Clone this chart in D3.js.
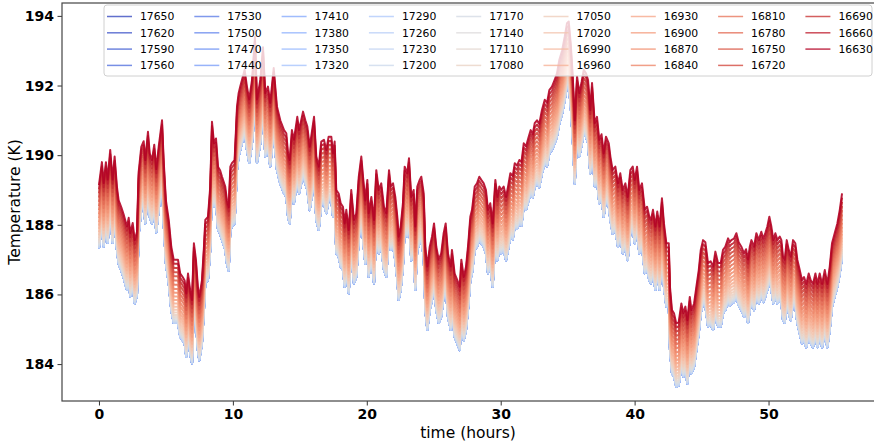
<!DOCTYPE html>
<html>
<head>
<meta charset="utf-8">
<script src="https://cdnjs.cloudflare.com/ajax/libs/d3/7.8.5/d3.min.js"></script>
<style>
body {
    margin: 0;
    background: #fff;
}
svg text {
    font-family: "DejaVu Sans", sans-serif;
    fill: #000;
}
</style>
</head>
<body>
<svg id="chart"></svg>
<script>

const WIDTH = 874, HEIGHT = 444;

// series names, drawn in this order (first = coolest colour)
const seriesIds = [17650, 17620, 17590, 17560, 17530, 17500, 17470, 17440, 17410,
    17380, 17350, 17320, 17290, 17260, 17230, 17200, 17170, 17140, 17110, 17080,
    17050, 17020, 16990, 16960, 16930, 16900, 16870, 16840, 16810, 16780, 16750,
    16720, 16690, 16660, 16630];

// how far each series sits below the warmest one (K)
const seriesDrop = [1.82, 1.82, 1.82, 1.82, 1.82, 1.82, 1.82, 1.82, 1.82,
    1.82, 1.82, 1.82, 1.82, 1.82, 1.80, 1.77, 1.74, 1.70, 1.65, 1.59,
    1.52, 1.44, 1.35, 1.26, 1.16, 1.06, 0.95, 0.84, 0.72, 0.60, 0.48,
    0.36, 0.24, 0.12, 0.00];

// time axis (hours) and the top (16630) trace in K
const hours = [0.00, 0.22, 0.35, 0.52, 0.65, 0.84, 1.02, 1.17, 1.34, 1.47,
    1.67, 1.84, 2.09, 2.22, 2.34, 2.52, 2.67, 2.84, 2.96, 3.16,
    3.34, 3.46, 3.66, 3.79, 3.96, 4.13, 4.28, 4.46, 4.71, 4.83,
    5.00, 5.21, 5.40, 5.58, 5.90, 6.07, 6.25, 6.40, 6.52, 6.65,
    6.82, 6.95, 7.09, 7.24, 7.39, 7.49, 7.69, 7.84, 7.94, 8.14,
    8.31, 8.44, 8.59, 8.74, 8.89, 9.04, 9.19, 9.43, 9.56, 9.69,
    9.81, 9.93, 10.13, 10.31, 10.43, 10.55, 10.68, 10.88, 11.05, 11.22,
    11.43, 11.65, 11.80, 12.05, 12.25, 12.42, 12.62, 12.79, 13.05, 13.29,
    13.54, 13.82, 13.99, 14.12, 14.24, 14.41, 14.56, 14.81, 14.94, 15.24,
    15.41, 15.56, 15.74, 16.06, 16.23, 16.41, 16.60, 16.80, 16.98, 17.15,
    17.35, 17.48, 17.60, 17.72, 17.90, 18.05, 18.22, 18.35, 18.47, 18.65,
    18.84, 19.04, 19.22, 19.40, 19.59, 19.74, 19.89, 20.04, 20.14, 20.34,
    20.54, 20.71, 20.89, 21.08, 21.28, 21.46, 21.66, 21.79, 21.96, 22.13,
    22.28, 22.38, 22.53, 22.70, 22.83, 23.02, 23.15, 23.32, 23.50, 23.62,
    23.77, 23.95, 24.07, 24.25, 24.37, 24.52, 24.70, 24.87, 25.02, 25.19,
    25.37, 25.56, 25.74, 25.89, 26.06, 26.27, 26.36, 26.56, 26.76, 26.94,
    27.06, 27.24, 27.41, 27.58, 27.73, 27.86, 28.06, 28.23, 28.40, 28.55,
    28.73, 28.90, 29.05, 29.22, 29.40, 29.60, 29.75, 29.90, 30.04, 30.22,
    30.40, 30.55, 30.72, 30.90, 31.05, 31.22, 31.39, 31.55, 31.72, 31.89,
    32.09, 32.24, 32.39, 32.54, 32.71, 32.88, 33.08, 33.29, 33.46, 33.63,
    33.83, 34.03, 34.20, 34.38, 34.58, 34.78, 34.95, 35.08, 35.23, 35.38,
    35.53, 35.70, 35.87, 36.04, 36.20, 36.37, 36.52, 36.69, 36.82, 37.02,
    37.19, 37.36, 37.53, 37.69, 37.86, 38.07, 38.19, 38.36, 38.56, 38.76,
    38.93, 39.11, 39.31, 39.48, 39.68, 39.86, 40.01, 40.18, 40.35, 40.55,
    40.76, 40.93, 41.10, 41.22, 41.37, 41.55, 41.69, 41.87, 42.04, 42.19,
    42.37, 42.55, 42.64, 42.79, 42.94, 43.11, 43.29, 43.49, 43.64, 43.79,
    43.94, 44.12, 44.24, 44.44, 44.61, 44.79, 44.94, 45.11, 45.28, 45.48,
    45.68, 45.86, 46.03, 46.23, 46.43, 46.60, 46.77, 46.98, 47.10, 47.22,
    47.42, 47.60, 47.77, 47.97, 48.17, 48.32, 48.47, 48.60, 48.72, 48.92,
    49.09, 49.27, 49.46, 49.61, 49.76, 49.91, 50.06, 50.21, 50.36, 50.51,
    50.66, 50.84, 50.96, 51.08, 51.21, 51.36, 51.51, 51.66, 51.83, 52.00,
    52.15, 52.33, 52.50, 52.65, 52.82, 53.00, 53.15, 53.32, 53.50, 53.65,
    53.82, 54.00, 54.20, 54.39, 54.57, 54.74, 54.94, 55.14, 55.32, 55.49];

const topTemp = [189.14, 189.80, 189.20, 189.80, 189.30, 190.15, 189.30, 189.96, 189.10, 188.70,
    188.50, 188.30, 187.95, 188.20, 187.76, 188.05, 187.56, 187.80, 189.50, 190.24,
    190.40, 189.86, 190.67, 190.05, 189.86, 190.30, 189.60, 190.24, 191.00, 189.86,
    188.70, 188.14, 187.37, 187.00, 187.00, 186.60, 186.50, 186.40, 186.03, 186.60,
    186.10, 185.84, 187.47, 187.00, 186.20, 185.93, 186.40, 187.37, 188.14, 188.23,
    189.10, 190.96, 190.34, 190.48, 189.67, 189.57, 189.38, 189.10, 188.70, 188.50,
    189.67, 189.77, 189.86, 191.40, 191.78, 191.97, 192.16, 192.45, 191.97, 191.60,
    192.16, 193.40, 191.60, 192.16, 193.10, 191.78, 191.97, 191.50, 192.50, 191.40,
    191.00, 190.72, 190.63, 190.05, 189.86, 190.72, 190.44, 191.10, 190.72, 191.25,
    191.00, 190.82, 190.24, 191.10, 189.96, 189.67, 190.39, 190.44, 190.15, 190.53,
    190.53, 190.05, 190.39, 189.00, 188.90, 188.62, 188.52, 188.04, 188.43, 187.85,
    189.00, 188.14, 188.33, 189.38, 189.96, 189.29, 188.70, 189.29, 188.33, 188.80,
    188.14, 189.57, 189.00, 189.19, 188.52, 188.33, 189.57, 189.10, 189.19, 188.80,
    188.23, 187.66, 187.95, 188.62, 189.67, 189.48, 189.91, 188.80, 189.00, 187.95,
    189.10, 189.29, 189.38, 188.90, 187.37, 186.80, 187.37, 187.66, 188.04, 187.37,
    187.00, 187.18, 187.76, 188.04, 187.18, 186.80, 187.28, 186.60, 186.41, 186.22,
    187.00, 186.50, 186.80, 187.47, 188.23, 188.43, 189.10, 189.19, 189.38, 189.29,
    189.19, 189.00, 188.43, 188.62, 188.04, 189.29, 188.80, 189.10, 189.00, 189.10,
    188.80, 189.10, 189.48, 189.40, 189.77, 189.70, 189.86, 189.80, 190.34, 190.25,
    190.53, 190.72, 190.60, 190.92, 191.00, 190.90, 191.30, 191.59, 191.50, 191.87,
    191.97, 192.16, 192.35, 192.74, 193.00, 193.40, 193.79, 193.84, 193.20, 192.26,
    191.00, 192.26, 191.78, 192.10, 192.45, 192.35, 192.16, 191.30, 192.07, 190.92,
    191.10, 190.44, 190.60, 190.05, 190.53, 190.34, 189.96, 189.57, 189.67, 189.19,
    189.48, 189.00, 189.19, 188.80, 189.57, 189.67, 189.29, 189.67, 189.00, 189.19,
    188.43, 188.52, 188.23, 188.14, 188.43, 187.95, 188.38, 187.95, 188.76, 188.04,
    187.47, 187.47, 186.22, 185.55, 185.46, 185.17, 185.20, 185.74, 185.46, 185.65,
    185.26, 185.93, 185.55, 185.74, 186.22, 186.70, 187.28, 187.56, 187.50, 186.90,
    186.95, 186.80, 187.23, 186.90, 186.90, 187.28, 187.37, 187.61, 187.50, 187.56,
    187.60, 187.76, 187.50, 187.37, 187.18, 187.30, 187.00, 187.37, 187.56, 187.37,
    187.76, 187.56, 187.80, 187.60, 187.76, 187.95, 188.23, 187.95, 187.56, 187.76,
    187.56, 187.66, 187.56, 187.08, 187.00, 187.56, 187.28, 187.08, 187.56, 187.47,
    187.00, 186.70, 186.41, 186.50, 186.30, 186.60, 186.41, 186.30, 186.60, 186.30,
    186.60, 186.30, 186.70, 186.30, 186.80, 187.47, 187.76, 188.04, 188.43, 188.90];

const xTicks = [0, 10, 20, 30, 40, 50];
const yTicks = [184, 186, 188, 190, 192, 194];

// matplotlib "coolwarm"
const coolwarm = d3.interpolateRgbBasis([
    '#3b4cc0', '#4d68d7', '#6282ea', '#779af7', '#8db0fe', '#a3c2ff',
    '#b8d0f9', '#ccd9ee', '#dddddd', '#ecd3c5', '#f5c4ad', '#f7b093',
    '#f49a7b', '#ec7f63', '#de604d', '#cb3e38', '#b40426'
]);
const colour = i => coolwarm(i / (seriesIds.length - 1));

const svg = d3.select('svg#chart')
    .attr('width', WIDTH)
    .attr('height', HEIGHT);

const x = d3.scaleLinear().domain([-2.76, 57.95]).range([62, 875]);
const y = d3.scaleLinear().domain([182.94, 194.37]).range([401, 3]);

svg.append('clipPath').attr('id', 'plot-clip')
    .append('rect')
    .attr('x', 62).attr('y', 3)
    .attr('width', 813).attr('height', 398);

const line = d3.line()
    .x(d => x(d[0]))
    .y(d => y(d[1]));

const linesG = svg.append('g').attr('clip-path', 'url(#plot-clip)');

seriesIds.forEach((id, i) => {
    const pts = hours.map((h, j) => [h, topTemp[j] - seriesDrop[i]]);
    linesG.append('path')
        .datum(pts)
        .attr('d', line)
        .attr('fill', 'none')
        .attr('stroke', colour(i))
        .attr('stroke-opacity', 0.9)
        .attr('stroke-width', 2)
        .attr('stroke-linejoin', 'round');
});

// axes
const xAxis = svg.append('g')
    .attr('transform', 'translate(0,401)')
    .call(d3.axisBottom(x).tickValues(xTicks).tickSize(4.5).tickPadding(3.5));
const yAxis = svg.append('g')
    .attr('transform', 'translate(62,0)')
    .call(d3.axisLeft(y).tickValues(yTicks).tickSize(4.5).tickPadding(3.5));

[xAxis, yAxis].forEach(ax => {
    ax.select('.domain').remove();
    ax.selectAll('line').attr('stroke', '#333').attr('stroke-width', 1);
    ax.selectAll('text')
        .style('font-size', '14px')
        .style('font-weight', 'bold')
        .attr('fill', '#000');
});

// frame
svg.append('rect')
    .attr('x', 62).attr('y', 3)
    .attr('width', 813).attr('height', 398)
    .attr('fill', 'none')
    .attr('stroke', '#444')
    .attr('stroke-width', 1.2);

svg.append('text')
    .attr('x', 468).attr('y', 438)
    .attr('text-anchor', 'middle')
    .style('font-size', '15.5px')
    .text('time (hours)');

svg.append('text')
    .attr('transform', 'translate(20,202) rotate(-90)')
    .attr('text-anchor', 'middle')
    .style('font-size', '15.5px')
    .text('Temperature (K)');

// legend, 9 columns filled top-to-bottom
const legendG = svg.append('g');
legendG.append('rect')
    .attr('x', 104).attr('y', 5)
    .attr('width', 768).attr('height', 71)
    .attr('rx', 3)
    .attr('fill', '#fff')
    .attr('fill-opacity', 0.8)
    .attr('stroke', '#d0d0d0')
    .attr('stroke-width', 1);

const legendItem = legendG.selectAll('g.item')
    .data(seriesIds)
    .enter().append('g')
    .classed('item', true)
    .attr('transform', (d, i) => 'translate(' + (107 + Math.floor(i / 4) * 87.3) + ',' + (16.5 + (i % 4) * 16.3) + ')');

legendItem.append('line')
    .attr('x1', 0).attr('x2', 25)
    .attr('stroke', (d, i) => colour(i))
    .attr('stroke-opacity', 0.8)
    .attr('stroke-width', 1.5);

legendItem.append('text')
    .attr('x', 33).attr('dy', '0.36em')
    .style('font-size', '10.8px')
    .text(d => d);

</script>
</body>
</html>
